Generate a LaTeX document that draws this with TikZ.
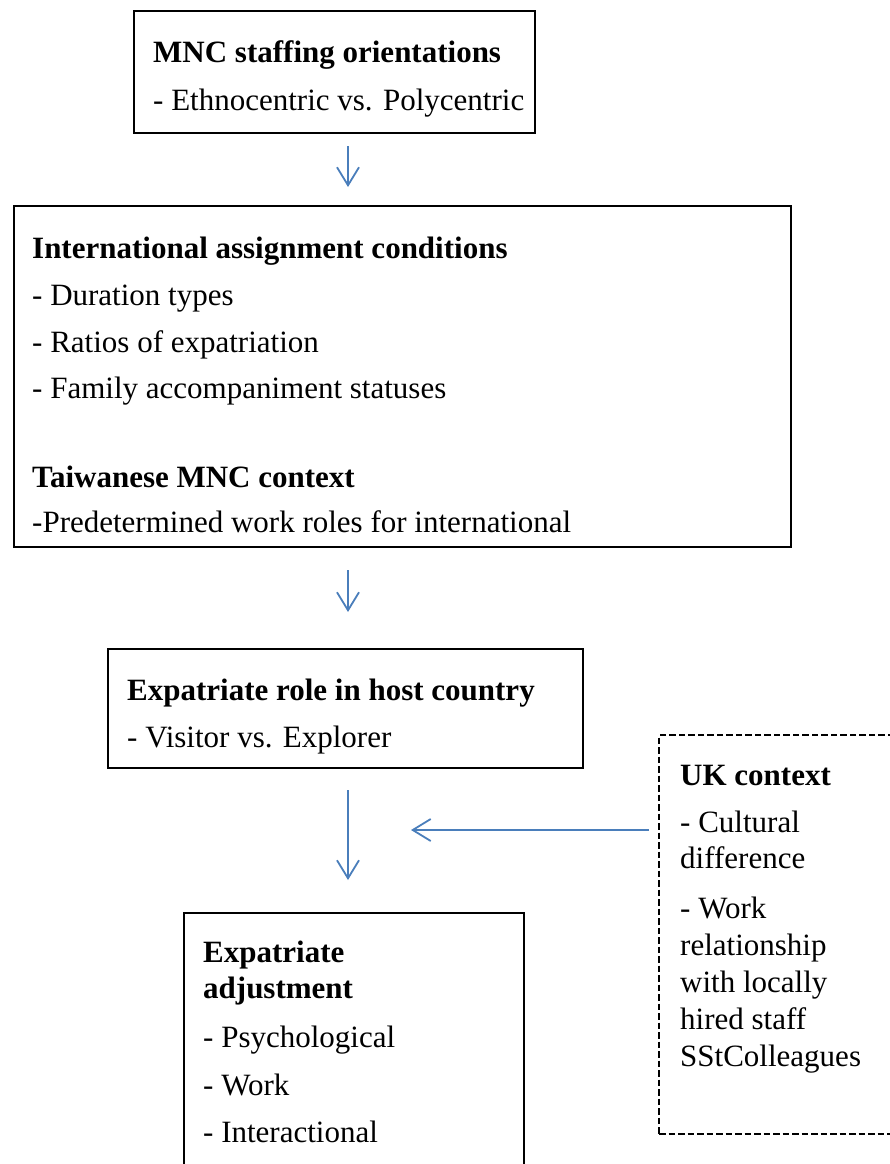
\documentclass[tikz,border=0pt]{standalone}
\usepackage{fontspec}
\setmainfont{Liberation Serif}
\usepackage{tikz}
\usetikzlibrary{
	arrows.meta,
	positioning
}
\definecolor{FlowBlue}{RGB}{74,126,187}
\tikzset{
	box/.style={draw, line width=1.8pt, inner sep=0pt, anchor=north west},
	ukbox/.style={box, line width=2pt, dash pattern=on 6.5pt off 3pt},
	txt/.style={anchor=base west, inner sep=0pt, font=\fontsize{31}{36.5}\selectfont},
	flow/.style={FlowBlue, line width=1.8pt, -{Straight Barb[length=18pt, width=22pt]}}
}
\begin{document}
\begin{tikzpicture}[x=1pt, y=-1pt]
			\useasboundingbox (0,0) rectangle (890,1164);
			\clip (0,0) rectangle (890,1164);
			\node[box, minimum width=401pt, minimum height=122pt] (orient) at (133,10) {};
			\node[box, minimum width=777pt, minimum height=341pt] (assign) at (13,205) {};
			\node[box, minimum width=475pt, minimum height=119pt] (role) at (107,648) {};
			\node[ukbox, minimum width=260pt, minimum height=399pt] (uk) at (658,734) {};
			\node[box, minimum width=340pt, minimum height=290pt] (adjust) at (183,912) {};
			\node[txt] (orientH) at (153,63) {\textbf{MNC staffing orientations}};
			\node[txt] (orient1) at (153,110) {- Ethnocentric vs. Polycentric};
			\node[txt] (assignH) at (32,258) {\textbf{International assignment conditions}};
			\node[txt] (assign1) at (32,305) {- Duration types};
			\node[txt] (assign2) at (32,352) {- Ratios of expatriation};
			\node[txt] (assign3) at (32,398) {- Family accompaniment statuses};
			\node[txt] (taiwanH) at (32,487) {\textbf{Taiwanese MNC context}};
			\node[txt] (taiwan1) at (32,532) {-Predetermined work roles for international};
			\node[txt] (roleH) at (127,700) {\textbf{Expatriate role in host country}};
			\node[txt] (role1) at (127,747) {- Visitor vs. Explorer};
			\node[txt] (ukH) at (680,785) {\textbf{UK context}};
			\foreach \yy/\lbl [count=\i] in {832/{- Cultural},868/difference,918/{- Work},955/relationship,992/{with locally},1029/{hired staff},1066/SStColleagues}
			\node[txt] (uk\i) at (680,\yy) {\lbl};
			\node[txt] (adjustH) at (203,962) {\textbf{Expatriate}};
			\node[txt] (adjustH2) at (203,998) {\textbf{adjustment}};
			\node[txt] (adjust1) at (203,1047) {- Psychological};
			\node[txt] (adjust2) at (203,1095) {- Work};
			\node[txt] (adjust3) at (203,1142) {- Interactional};
			\coordinate (a1s) at (348,146);
			\coordinate (a1e) at (348,187);
			\coordinate (a2s) at (348,570);
			\coordinate (a2e) at (348,612);
			\coordinate (a3s) at (348,790);
			\coordinate (a3e) at (348,880);
			\coordinate (a4s) at (649,830);
			\coordinate (a4e) at (411,830);
			\draw[flow] (a1s) -- (a1e);
			\draw[flow] (a2s) -- (a2e);
			\draw[flow] (a3s) -- (a3e);
			\draw[flow] (a4s) -- (a4e);
		\end{tikzpicture}
\end{document}
